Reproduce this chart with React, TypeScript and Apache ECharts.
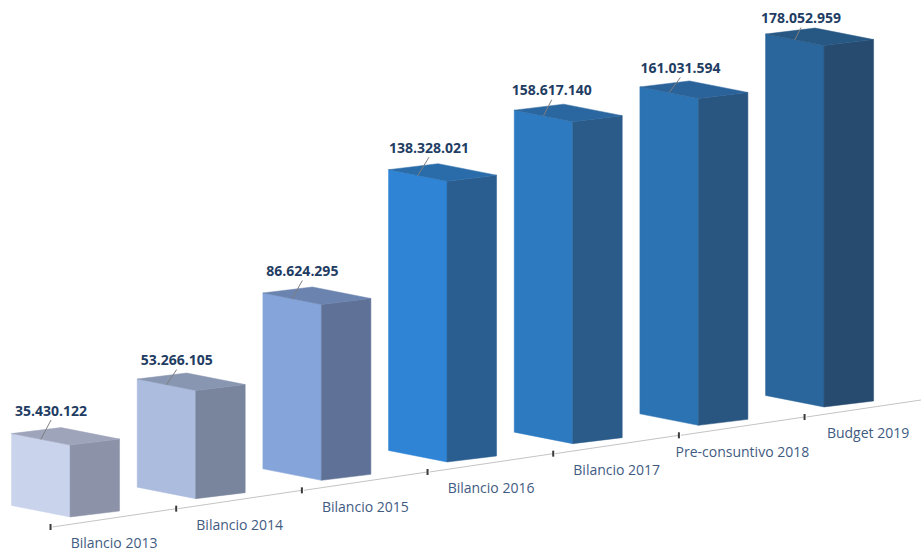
import React, { useEffect, useRef } from "react";
import * as echarts from "echarts";

const categories = ["Bilancio 2013", "Bilancio 2014", "Bilancio 2015", "Bilancio 2016", "Bilancio 2017", "Pre-consuntivo 2018", "Budget 2019"];
const values = [35430122, 53266105, 86624295, 138328021, 158617140, 161031594, 178052959];
const frontColors = ["#c9d4ec", "#abbcdf", "#85a4d9", "#2f84d6", "#2e7ac1", "#2c73b3", "#2a659b"];
const sideColors = ["#8c93a8", "#79859d", "#5f7197", "#2b5e90", "#2a5b89", "#295681", "#274b6f"];
const topColors = ["#9ea4ba", "#8996b1", "#6a83af", "#2a6ca9", "#2a669f", "#2a629a", "#275783"];
const labelLift = [35, 31, 34, 34, 32, 31, 28];
const labelShift = [-19, -19, -19, -18, -21, -18, -23];

const SLOPE = 0.1459;
const FRONT0_X = 70;
const W = 921;
const H = 550;
const fmt = (v: number) => String(v).replace(/\B(?=(\d{3})+(?!\d))/g, ".");
const FONT = "'Open Sans', 'Noto Sans', sans-serif";

// Floor tilt: every point is lifted according to its horizontal position.
const tilt = (x: number) => -SLOPE * (x - FRONT0_X);

function renderBar(params: any, api: any) {
  const i = api.value(0);
  const v = api.value(1);
  const base = api.coord([i, 0]);
  const top = api.coord([i, v]);
  const x = base[0];
  const by = base[1] + tilt(x);
  const ty = top[1] + tilt(x);
  const L = [-58.5, -11.5];
  const R = [49.5, -6];
  const B = [L[0] + R[0], L[1] + R[1]];
  const poly = (pts: number[][], fill: string) => ({
    type: "polygon",
    shape: { points: pts },
    style: { fill, stroke: fill, lineWidth: 0.5 },
  });
  const lx = x + labelShift[i];
  const ly = ty - labelLift[i];
  return {
    type: "group",
    children: [
      poly([[x + L[0], by + L[1]], [x, by], [x, ty], [x + L[0], ty + L[1]]], frontColors[i]),
      poly([[x, by], [x + R[0], by + R[1]], [x + R[0], ty + R[1]], [x, ty]], sideColors[i]),
      poly([[x, ty], [x + R[0], ty + R[1]], [x + B[0], ty + B[1]], [x + L[0], ty + L[1]]], topColors[i]),
      {
        type: "line",
        shape: { x1: lx, y1: ly + 10, x2: x + L[0] / 2, y2: ty + L[1] / 2 },
        style: { stroke: "#7f7f7f", lineWidth: 1 },
      },
      {
        type: "text",
        style: {
          text: fmt(v),
          x: lx,
          y: ly,
          align: "center",
          verticalAlign: "middle",
          fill: "#1f3d63",
          fontFamily: FONT,
          fontWeight: "bold",
          fontSize: 14,
        },
      },
    ],
  };
}

function renderAxis(params: any, api: any) {
  const i = api.value(0);
  const base = api.coord([i, 0]);
  const next = api.coord([i + 1, 0]);
  const tx = base[0] - 19.5;
  const ty = base[1] + tilt(base[0]) + 10;
  const nx = i === categories.length - 1 ? W : next[0] - 19.5;
  const ny = ty - SLOPE * (nx - tx);
  return {
    type: "group",
    children: [
      {
        type: "line",
        shape: { x1: tx + 2, y1: ty, x2: nx, y2: ny },
        style: { stroke: "#c4c4c4", lineWidth: 1 },
      },
      {
        type: "line",
        shape: { x1: tx, y1: ty - 3, x2: tx, y2: ty + 3 },
        style: { stroke: "#3a3a3a", lineWidth: 2 },
      },
      {
        type: "text",
        style: {
          text: categories[i],
          x: base[0] + 44,
          y: ty + 16,
          align: "center",
          verticalAlign: "middle",
          fill: "#3f5b82",
          fontFamily: FONT,
          fontSize: 14,
          lineHeight: 14,
        },
      },
    ],
  };
}

export default function App() {
  const ref = useRef<HTMLDivElement>(null);
  useEffect(() => {
    const chart = echarts.init(ref.current!, undefined, { renderer: "svg" });
    chart.setOption({
      animation: false,
      backgroundColor: "#ffffff",
      grid: { left: 7.2, width: 879.7, top: 9.5, height: 507.5 },
      xAxis: { type: "category", data: categories, show: false },
      yAxis: { type: "value", min: 0, max: 250000000, show: false },
      series: [
        {
          type: "custom",
          renderItem: renderAxis,
          data: values.map((v, i) => [i, v]),
          encode: { x: 0, y: 1 },
          clip: false,
          silent: true,
          z: 1,
        },
        {
          type: "custom",
          renderItem: renderBar,
          data: values.map((v, i) => [i, v]),
          encode: { x: 0, y: 1 },
          clip: false,
          silent: true,
          z: 2,
        },
      ],
    });
    return () => chart.dispose();
  }, []);
  return <div ref={ref} style={{ position: "fixed", left: 0, top: 0, width: W, height: H }} />;
}
